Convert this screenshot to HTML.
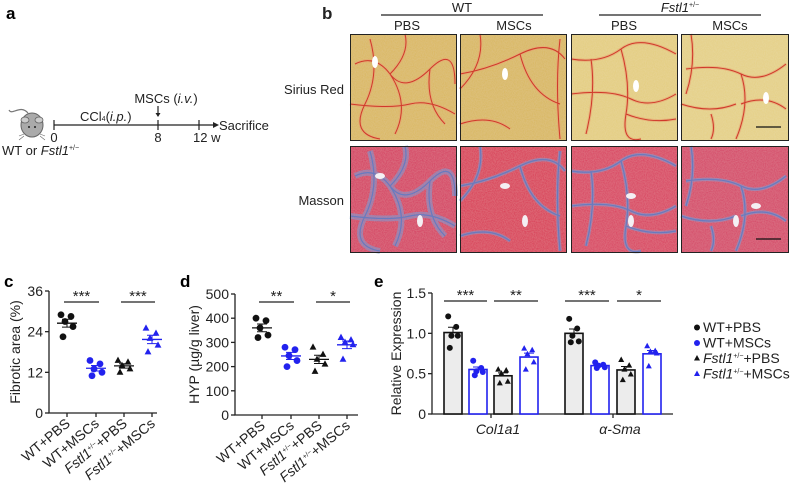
<!DOCTYPE html>
<html><head><meta charset="utf-8">
<style>
html,body{margin:0;padding:0;background:#fff;}
svg{display:block;font-family:"Liberation Sans",Arial,sans-serif;}
</style></head>
<body>
<svg id="fig" width="790" height="486" viewBox="0 0 790 486" xmlns="http://www.w3.org/2000/svg">
<defs>
<filter id="grainR" x="0" y="0" width="100%" height="100%">
<feTurbulence type="fractalNoise" baseFrequency="0.9" numOctaves="1" seed="3" result="n"/>
<feColorMatrix in="n" type="matrix" values="0 0 0 0 1  0 0 0 0 1  0 0 0 0 1  0 0 0 0.15 0" result="w"/>
<feComposite in="w" in2="SourceGraphic" operator="in" result="w2"/>
<feMerge><feMergeNode in="SourceGraphic"/><feMergeNode in="w2"/></feMerge>
</filter>
</defs>
<!-- Panel a -->
<g>
<text x="6" y="19" font-size="17" font-weight="bold">a</text>
<g>
<path d="M28 113 C20 104 12 116 9 110" stroke="#777" stroke-width="1.2" fill="none"/>
<ellipse cx="32" cy="125" rx="11" ry="12" fill="#aaa" stroke="#666" stroke-width="1"/>
<ellipse cx="25" cy="120" rx="4" ry="3" fill="#ccc" stroke="#666" stroke-width="0.8"/>
<ellipse cx="39" cy="120" rx="4" ry="3" fill="#ccc" stroke="#666" stroke-width="0.8"/>
<circle cx="29" cy="127" r="1" fill="#222"/><circle cx="35" cy="127" r="1" fill="#222"/>
<path d="M24 134 l-5 2 M24 136 l-5 4 M40 134 l5 2 M40 136 l5 4" stroke="#666" stroke-width="0.6"/>
</g>
<g stroke="#222" stroke-width="1.2">
<line x1="54" y1="125" x2="214" y2="125"/>
<line x1="54" y1="120" x2="54" y2="130"/>
<line x1="158" y1="120" x2="158" y2="130"/>
<line x1="199" y1="120" x2="199" y2="130"/>
<line x1="158" y1="106" x2="158" y2="116"/>
</g>
<path d="M213 122 L219 125 L213 128 Z" fill="#222"/>
<path d="M155.5 113 L158 117 L160.5 113 Z" fill="#222"/>
<g font-size="13" fill="#222">
<text x="54" y="142" text-anchor="middle">0</text>
<text x="158" y="142" text-anchor="middle">8</text>
<text x="193" y="142">12 w</text>
<text x="219" y="130">Sacrifice</text>
<text x="80" y="121">CCl<tspan font-size="7">4</tspan>(<tspan font-style="italic">i.p.</tspan>)</text>
<text x="166" y="103" text-anchor="middle">MSCs (<tspan font-style="italic">i.v.</tspan>)</text>
<text x="2" y="155">WT or <tspan font-style="italic">Fstl1</tspan><tspan font-size="7" dy="-5">+/−</tspan></text>
</g>
</g>
<!-- Panel b -->
<g font-size="13" fill="#222">
<text x="322" y="19" font-size="17" font-weight="bold">b</text>
<text x="462" y="12" text-anchor="middle">WT</text>
<line x1="381" y1="15" x2="543" y2="15" stroke="#222" stroke-width="1.2"/>
<text x="680" y="12" text-anchor="middle" font-style="italic">Fstl1<tspan font-style="normal" font-size="7" dy="-5">+/−</tspan></text>
<line x1="599" y1="15" x2="761" y2="15" stroke="#222" stroke-width="1.2"/>
<text x="407" y="30" text-anchor="middle">PBS</text>
<text x="514" y="30" text-anchor="middle">MSCs</text>
<text x="624" y="30" text-anchor="middle">PBS</text>
<text x="730" y="30" text-anchor="middle">MSCs</text>
<text x="344" y="94" text-anchor="end">Sirius Red</text>
<text x="344" y="205" text-anchor="end">Masson</text>
<g id="micro"></g>
</g>
<g id="charts"></g>
</svg>
<script>
// ---------- data ----------
const groupsCD = ["WT+PBS","WT+MSCs","Fstl1+PBS","Fstl1+MSCs"];
const cTicks = [0,12,24,36];
const cWtPbs = [29,28.5,27,25.5,22.5];
const cWtMsc = [15.5,14.5,13,12,11];
const cFsPbs = [15.5,15,14,13,12];
const cFsMsc = [25,23.5,22,20,18];
const dTicks = [0,100,200,300,400,500];
const dWtPbs = [400,390,360,330,320];
const dWtMsc = [280,270,245,225,200];
const dFsPbs = [280,250,230,210,180];
const dFsMsc = [320,310,300,290,230];
const eGenes = ["Col1a1","α-Sma"];
const eTicks = [0,0.5,1.0,1.5];
const eCol1a1 = [[1.21,1.08,0.97,0.97,0.82],[0.66,0.57,0.53,0.52,0.48],[0.55,0.54,0.50,0.40,0.38],[0.81,0.79,0.74,0.64,0.55]];
const eSma = [[1.18,1.06,0.97,0.90,0.89],[0.64,0.61,0.60,0.58,0.57],[0.67,0.60,0.55,0.49,0.42],[0.84,0.78,0.77,0.75,0.59]];
const sigC = ["***","***"], sigD = ["**","*"], sigE = ["***","**","***","*"];

const NS="http://www.w3.org/2000/svg";
function mk(parent,tag,attrs){const e=document.createElementNS(NS,tag);for(const k in attrs)e.setAttribute(k,attrs[k]);parent.appendChild(e);return e;}
const colors=["#111","#2222ee","#111","#2222ee"];
const shapes=["circle","circle","tri","tri"];
const jit=[-6,4,-2,6,-4];
function mean(a){return a.reduce((s,v)=>s+v,0)/a.length;}
function sem(a){const m=mean(a);return Math.sqrt(a.reduce((s,v)=>s+(v-m)*(v-m),0)/(a.length-1))/Math.sqrt(a.length);}
function marker(g,shape,x,y,c,r){
  let el;
  if(shape==="circle") el=mk(g,"circle",{cx:x,cy:y,r:r,fill:c});
  else el=mk(g,"path",{d:`M${x} ${y-r-0.5} L${x+r} ${y+r-1} L${x-r} ${y+r-1} Z`,fill:c});
  
  
}
const charts=document.getElementById('charts');

function scatterPanel(cfg){
  const g=mk(charts,"g",{});
  
  
  const y=v=>cfg.y0-(v-cfg.tmin)/(cfg.tmax-cfg.tmin)*(cfg.y0-cfg.y1);
  const lab=mk(g,"text",{x:cfg.lx,y:287,"font-size":17,"font-weight":"bold"});lab.textContent=cfg.letter;
  
  const ax=mk(g,"path",{d:`M${cfg.ax} ${cfg.y1} V${cfg.y0} H${cfg.xend}`,stroke:"#222","stroke-width":1.3,fill:"none"});
  
  cfg.ticks.forEach(t=>{
    mk(g,"line",{x1:cfg.ax-4,x2:cfg.ax,y1:y(t),y2:y(t),stroke:"#222","stroke-width":1.3});
    const tx=mk(g,"text",{x:cfg.ax-6,y:y(t)+5,"font-size":14,"text-anchor":"end",fill:"#222"});tx.textContent=t;
    
  });
  const yt=mk(g,"text",{x:0,y:0,"font-size":14,"text-anchor":"middle",fill:"#222",transform:`translate(${cfg.ytx},${(cfg.y0+cfg.y1)/2}) rotate(-90)`});
  yt.textContent=cfg.ytitle;
  cfg.series.forEach((s,i)=>{
    const cx=cfg.xs[i];
    mk(g,"line",{x1:cx,x2:cx,y1:cfg.y0,y2:cfg.y0+4,stroke:"#222","stroke-width":1.3});
    s.forEach((v,j)=>marker(g,shapes[i],cx+jit[j],y(v),colors[i],3.4));
    const m=mean(s),e=sem(s),col=colors[i];
    const ml=mk(g,"line",{x1:cx-10,x2:cx+10,y1:y(m),y2:y(m),stroke:col,"stroke-width":1.3});
    
    mk(g,"path",{d:`M${cx-5} ${y(m+e)} H${cx+5} M${cx} ${y(m+e)} V${y(m-e)} M${cx-5} ${y(m-e)} H${cx+5}`,stroke:col,"stroke-width":1,fill:"none"});
    const tl=mk(g,"text",{x:0,y:0,"font-size":14,"text-anchor":"end",fill:"#222",transform:`translate(${cx+4},${cfg.y0+12}) rotate(-40)`});
    
    const nm=groupsCD[i];
    if(nm.startsWith("Fstl1")){tl.innerHTML=`<tspan font-style="italic">Fstl1</tspan><tspan font-size="7" dy="-5">+/−</tspan><tspan dy="5">${nm.slice(5)}</tspan>`;}
    else tl.textContent=nm;
  });
  [[0,1],[2,3]].forEach((p,k)=>{
    const x1=cfg.xs[p[0]]-3,x2=cfg.xs[p[1]]+3;
    mk(g,"line",{x1:x1,x2:x2,y1:cfg.sy,y2:cfg.sy,stroke:"#222","stroke-width":1.2});
    const st=mk(g,"text",{x:(x1+x2)/2,y:cfg.sy-1,"font-size":15,"text-anchor":"middle",fill:"#222"});st.textContent=cfg.sig[k];
    
  });
}
scatterPanel({name:"panel-c-fibrotic-area",letter:"c",lx:4,ax:49,xend:157,y0:413,y1:291,tmin:0,tmax:36,ticks:cTicks,
  xs:[67,96,124,152],series:[cWtPbs,cWtMsc,cFsPbs,cFsMsc],ytitle:"Fibrotic area (%)",ytx:20,sy:302,sig:sigC});
scatterPanel({name:"panel-d-hyp",letter:"d",lx:180,ax:235,xend:358,y0:415,y1:294,tmin:0,tmax:500,ticks:dTicks,
  xs:[262,291,319,347],series:[dWtPbs,dWtMsc,dFsPbs,dFsMsc],ytitle:"HYP (µg/g liver)",ytx:199,sy:302,sig:sigD});

// Panel e
(function(){
  const g=mk(charts,"g",{});
  
  
  const y0=414,y1=293,ax=432;
  const y=v=>y0-v/1.5*(y0-y1);
  const lab=mk(g,"text",{x:374,y:287,"font-size":17,"font-weight":"bold"});lab.textContent="e";
  
  const ax1=mk(g,"path",{d:`M${ax} ${y1} V${y0} H673`,stroke:"#222","stroke-width":1.3,fill:"none"});
  
  eTicks.forEach(t=>{
    mk(g,"line",{x1:ax-4,x2:ax,y1:y(t),y2:y(t),stroke:"#222","stroke-width":1.3});
    const tx=mk(g,"text",{x:ax-6,y:y(t)+5,"font-size":14,"text-anchor":"end",fill:"#222"});tx.textContent=t===0?"0":t.toFixed(1);
    
  });
  const yt=mk(g,"text",{x:0,y:0,"font-size":14,"text-anchor":"middle",fill:"#222",transform:`translate(401,${(y0+y1)/2}) rotate(-90)`});
  yt.textContent="Relative Expression";
  const gx=[[453,478,503,529],[574,600,626,652]];
  const gc=[491,613];
  [eCol1a1,eSma].forEach((gene,gi)=>{
    mk(g,"line",{x1:gc[gi],x2:gc[gi],y1:y0,y2:y0+4,stroke:"#222","stroke-width":1.3});
    const gl=mk(g,"text",{x:gc[gi]+7,y:434,"font-size":14,"text-anchor":"middle","font-style":"italic",fill:"#222"});gl.textContent=eGenes[gi];
    
    gene.forEach((s,i)=>{
      const cx=gx[gi][i],m=mean(s),e=sem(s),col=colors[i];
      const b=mk(g,"rect",{x:cx-9,y:y(m),width:18,height:y0-y(m),fill:col==="#111"?"#ececec":"#fff",stroke:col,"stroke-width":1.6});
      
      mk(g,"path",{d:`M${cx-5} ${y(m+e)} H${cx+5} M${cx} ${y(m+e)} V${y(m)}`,stroke:col,"stroke-width":1,fill:"none"});
      s.forEach((v,j)=>marker(g,shapes[i],cx+jit[j]*0.8,y(v),colors[i],3));
    });
    [[0,1],[2,3]].forEach((p,k)=>{
      const x1=gx[gi][p[0]]-9,x2=gx[gi][p[1]]+9,sy=301;
      mk(g,"line",{x1:x1,x2:x2,y1:sy,y2:sy,stroke:"#222","stroke-width":1.2});
      const st=mk(g,"text",{x:(x1+x2)/2,y:sy-1,"font-size":15,"text-anchor":"middle",fill:"#222"});st.textContent=sigE[gi*2+k];
      
    });
  });
  const leg=mk(g,"g",{});
  
  const names=["WT+PBS","WT+MSCs","+PBS","+MSCs"];
  names.forEach((n,i)=>{
    const ly=332+i*15.5;
    marker(leg,shapes[i],697,ly-4.5,colors[i],3);
    const t=mk(leg,"text",{x:703,y:ly,"font-size":14,fill:"#222"});
    
    if(i>=2) t.innerHTML=`<tspan font-style="italic">Fstl1</tspan><tspan font-size="7" dy="-5">+/−</tspan><tspan dy="5">${n}</tspan>`;
    else t.textContent=n;
  });
})();

// Microscopy panels (decorative)
(function(){
  const m=document.getElementById('micro');
  const cols=[350,460,571,681], w=[107,107,107,108];
  const rows=[{y:34,h:107},{y:146,h:107}];
  const sirBg=["#d9b65a","#d8b65a","#e3cc7c","#e4cf82"];
  const masBg=["#d4345c","#d8304f","#d8385a","#d43c62"];
  const nets=[
    "M5 30 Q25 20 40 40 T80 35 T105 50 M20 5 Q30 40 15 70 T30 105 M40 40 Q60 70 45 100 M80 35 Q75 70 95 90 M0 70 Q40 75 60 70 T105 80 M55 0 Q60 20 40 40",
    "M0 40 Q30 35 60 20 T105 25 M60 20 Q70 60 100 70 M0 90 Q30 80 50 95 M100 5 Q95 50 100 105 M20 0 Q25 30 0 55",
    "M0 25 Q30 30 50 15 T105 20 M20 25 Q25 60 15 100 M50 15 Q60 50 55 80 T70 105 M0 60 Q40 55 60 65 T105 60 M55 80 Q80 90 105 85",
    "M10 0 Q15 30 5 60 M5 35 Q40 30 60 40 T105 30 M60 40 Q70 70 55 105 M0 70 Q30 80 55 70 M60 70 Q85 60 105 75 M30 80 Q35 95 30 105"
  ];
  rows.forEach((r,ri)=>{
    cols.forEach((x,ci)=>{
      const g=mk(m,"g",{transform:`translate(${x},${r.y})`});
      
      
      const bg=ri===0?sirBg[ci]:masBg[ci];
      mk(g,"rect",{x:0,y:0,width:w[ci],height:r.h,fill:bg,filter:"url(#grainR)"});
      if(ri===0){
        mk(g,"path",{d:nets[ci],stroke:"#e8a070","stroke-width":3,fill:"none",opacity:0.6});
        mk(g,"path",{d:nets[ci],stroke:"#d0382a","stroke-width":1,fill:"none"});
        mk(g,"ellipse",{cx:25+ci*20,cy:28+ci*12,rx:3,ry:6,fill:"#fff"});
      } else {
        mk(g,"path",{d:nets[ci],stroke:"#7aa0d8","stroke-width":ci===0?6:3.5,fill:"none",opacity:0.55});
        mk(g,"path",{d:nets[ci],stroke:"#4f78c8","stroke-width":1.2,fill:"none",opacity:0.7});
        mk(g,"ellipse",{cx:30+ci*15,cy:30+ci*10,rx:5,ry:3,fill:"#f4f0f4"});
        mk(g,"ellipse",{cx:70-ci*5,cy:75,rx:3,ry:6,fill:"#f4f0f4"});
      }
      mk(g,"rect",{x:0.5,y:0.5,width:w[ci]-1,height:r.h-1,fill:"none",stroke:"#222","stroke-width":1});
      if(ci===3){const sb=mk(g,"line",{x1:75,x2:100,y1:r.h-14,y2:r.h-14,stroke:"#111","stroke-width":1.3});
        }
    });
  });
})();
</script>
</body></html>
